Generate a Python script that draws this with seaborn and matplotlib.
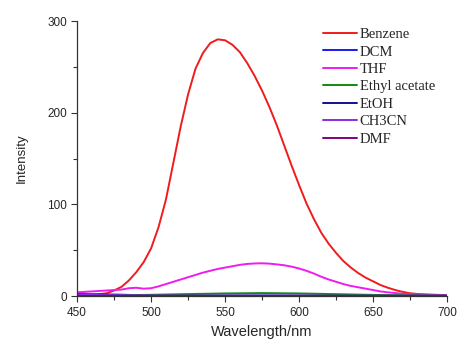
import numpy as np
import pandas as pd
import seaborn as sns
import matplotlib
matplotlib.use("Agg")
import matplotlib.pyplot as plt
from matplotlib.ticker import MultipleLocator

# ---- data ----
wl_5 = list(range(450, 701, 5))
benzene = [0.5, 0.8, 1.2, 2, 3, 6, 10, 17, 26, 37,
           52, 75, 105, 145, 185, 220, 248, 265, 276, 280,
           279, 274, 266, 254, 240, 224, 206, 186, 164, 142,
           121, 101, 84, 69, 57, 47, 38, 31, 25, 20,
           16, 12, 9, 6.5, 4.5, 3, 2.2, 1.8, 1.5, 1.2, 1.0]
thf = [4, 4.5, 5, 5.5, 6, 6.5, 7, 8.5, 9, 8,
       8.5, 10.5, 13, 15.5, 18, 20.5, 23, 25.5, 27.5, 29.5,
       31, 32.5, 34, 35, 35.5, 35.7, 35.3, 34.5, 33.5, 32,
       30, 27.5, 24.5, 21, 18, 15.5, 13, 11, 9.5, 8,
       6.5, 5, 4, 3.2, 2.5, 2, 1.6, 1.3, 1.1, 1.0, 0.9]

wl_s = [450, 475, 500, 525, 550, 575, 600, 625, 650, 675, 700]
dcm = [2.2, 1.6, 0.6, 0.4, 0.4, 0.4, 0.3, 0.3, 0.2, 0.2, 0.2]
ethyl_acetate = [0.3, 0.7, 1.3, 2.1, 2.8, 3.2, 2.8, 2.0, 1.2, 0.7, 0.4]
etoh = [0.4, 0.4, 0.3, 0.3, 0.3, 0.3, 0.3, 0.3, 0.2, 0.2, 0.2]
ch3cn = [1.2, 0.8, 0.5, 0.4, 0.4, 0.4, 0.4, 0.3, 0.3, 0.3, 0.3]
dmf = [0.2, 0.2, 0.2, 0.2, 0.2, 0.2, 0.2, 0.2, 0.2, 0.2, 0.2]

series = [
    ("Benzene", wl_5, benzene, "#ee1c1c"),
    ("DCM", wl_s, dcm, "#1a1aee"),
    ("THF", wl_5, thf, "#ee1cee"),
    ("Ethyl acetate", wl_s, ethyl_acetate, "#128a12"),
    ("EtOH", wl_s, etoh, "#10108a"),
    ("CH3CN", wl_s, ch3cn, "#8a2be2"),
    ("DMF", wl_s, dmf, "#800080"),
]

sns.set_style("ticks")
plt.rcParams['font.family'] = ['Liberation Sans', 'DejaVu Sans']

fig = plt.figure(figsize=(4.59, 3.42), dpi=100)
ax = fig.add_axes([0.168, 0.1345, 0.806, 0.804])

for name, x, y, c in series:
    df = pd.DataFrame({"x": x, "y": y})
    sns.lineplot(data=df, x="x", y="y", ax=ax, color=c, linewidth=1.4,
                 label=name, legend=False)

ax.set_xlim(450, 700)
ax.set_ylim(0, 300)
ax.xaxis.set_major_locator(MultipleLocator(50))
ax.xaxis.set_minor_locator(MultipleLocator(25))
ax.yaxis.set_major_locator(MultipleLocator(100))
ax.yaxis.set_minor_locator(MultipleLocator(50))
ax.tick_params(which='major', length=4.5, width=0.8, labelsize=8.5, color='#333333', pad=2.5)
ax.tick_params(which='minor', length=3, width=0.8, color='#333333')
ax.tick_params(axis='x', which='major', pad=3.5)
for s in ('top', 'right'):
    ax.spines[s].set_visible(False)
for s in ('left', 'bottom'):
    ax.spines[s].set_color('#333333')
    ax.spines[s].set_linewidth(0.9)

ax.set_xlabel("Wavelength/nm", fontsize=10.5, labelpad=4)
ax.set_ylabel("Intensity", fontsize=9.5, labelpad=14)

leg = ax.legend(loc='upper left', bbox_to_anchor=(0.665, 0.975), frameon=False,
                prop={'family': 'Liberation Serif', 'size': 10.5},
                handlelength=2.3, handletextpad=0.2, labelspacing=0.29,
                borderaxespad=0, borderpad=0)
for l in leg.get_lines():
    l.set_linewidth(1.4)

fig.savefig("out.png", dpi=100)
